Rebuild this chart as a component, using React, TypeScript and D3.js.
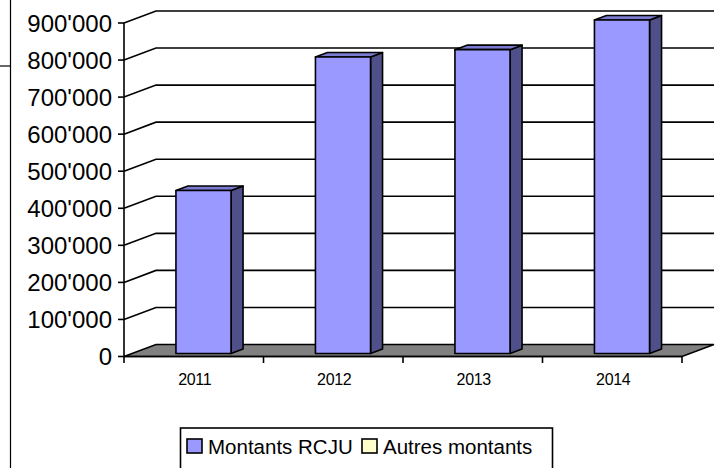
import React from "react";
import * as d3 from "d3";

const categories = ["2011", "2012", "2013", "2014"];
const rcjuValues = [440000, 800000, 820000, 900000];
const yTicks = [0, 100000, 200000, 300000, 400000, 500000, 600000, 700000, 800000, 900000];
const seriesNames = ["Montants RCJU", "Autres montants"];
const seriesColors = ["#9999FF", "#FFFFCC"];

const W = 715;
const H = 468;
const X0 = 124;
const X1 = 682;
const Y0 = 356.5;
const Y1 = 23;
const DX = 32;
const DY = -12;
const FONT = "Arial, 'Liberation Sans', sans-serif";

const fmt = (v: number) => {
  if (v === 0) return "0";
  const s = d3.format(",")(v);
  return s.replace(/,/g, "'");
};

export default function App() {
  const x = d3.scaleBand<string>().domain(categories).range([X0, X1]).padding(0);
  const y = d3.scaleLinear().domain([0, 900000]).range([Y0, Y1]);
  const bw = x.bandwidth();
  const barW = bw * 0.395;
  const f1 = 0.25;
  const f2 = 0.625;
  const fdx = DX * f1, fdy = DY * f1;
  const bdx = DX * f2, bdy = DY * f2;

  const pts = (arr: [number, number][]) => arr.map((p) => p.join(",")).join(" ");

  return (
    <svg width={W} height={H} style={{ position: "absolute", left: 0, top: 0, background: "#fff" }}>
      {/* outer frame lines */}
      <line x1={10.5} y1={0} x2={10.5} y2={H} stroke="#000" strokeWidth={1.2} />
      <line x1={0} y1={66} x2={10.5} y2={66} stroke="#000" strokeWidth={1.2} />

      {/* floor */}
      <polygon
        points={pts([
          [X0, Y0],
          [X1, Y0],
          [X1 + DX, Y0 + DY],
          [X0 + DX, Y0 + DY],
        ])}
        fill="#808080"
        stroke="#000"
        strokeWidth={1.5}
      />

      {/* gridlines: side wall diagonal + back wall horizontal */}
      {yTicks.map((t) => (
        <g key={t}>
          {t > 0 && (
            <polyline
              points={pts([
                [X0, y(t)],
                [X0 + DX, y(t) + DY],
                [X1 + DX, y(t) + DY],
              ])}
              fill="none"
              stroke="#000"
              strokeWidth={1.6}
            />
          )}
        </g>
      ))}

      {/* bars */}
      {categories.map((c, i) => {
        const v = rcjuValues[i];
        const xl = (x(c) as number) + bw * 0.315;
        const xr = xl + barW;
        const yb = y(0);
        const yt = y(v);
        const front: [number, number][] = [
          [xl + fdx, yt + fdy],
          [xr + fdx, yt + fdy],
          [xr + fdx, yb + fdy],
          [xl + fdx, yb + fdy],
        ];
        const side: [number, number][] = [
          [xr + fdx, yt + fdy],
          [xr + bdx, yt + bdy],
          [xr + bdx, yb + bdy],
          [xr + fdx, yb + fdy],
        ];
        const top: [number, number][] = [
          [xl + fdx, yt + fdy],
          [xl + bdx, yt + bdy],
          [xr + bdx, yt + bdy],
          [xr + fdx, yt + fdy],
        ];
        return (
          <g key={c} stroke="#000" strokeWidth={1.6} strokeLinejoin="round">
            <polygon points={pts(side)} fill="#4F4F8A" />
            <polygon points={pts(top)} fill="#7A7AD0" />
            <polygon points={pts(front)} fill={seriesColors[0]} />
          </g>
        );
      })}

      {/* y axis */}
      <line x1={X0} y1={Y1} x2={X0} y2={Y0} stroke="#000" strokeWidth={1.6} />
      {yTicks.map((t) => (
        <g key={"yt" + t}>
          <line x1={X0 - 6} y1={y(t)} x2={X0} y2={y(t)} stroke="#000" strokeWidth={1.6} />
          <text
            x={112}
            y={y(t)}
            textAnchor="end"
            dominantBaseline="central"
            fontFamily={FONT}
            fontSize={24}
            fill="#000"
          >
            {fmt(t)}
          </text>
        </g>
      ))}

      {/* x axis */}
      <line x1={X0} y1={Y0} x2={X1} y2={Y0} stroke="#000" strokeWidth={1.6} />
      {[...categories.map((c) => x(c) as number), X1].map((px, i) => (
        <line key={"xt" + i} x1={px} y1={Y0} x2={px} y2={Y0 + 6.5} stroke="#000" strokeWidth={1.6} />
      ))}
      {categories.map((c) => (
        <text
          key={"xl" + c}
          x={(x(c) as number) + bw / 2 + 1}
          y={384.5}
          textAnchor="middle"
          fontFamily={FONT}
          fontSize={16}
          letterSpacing={-0.3}
          fill="#000"
        >
          {c}
        </text>
      ))}

      {/* legend */}
      <rect x={180.5} y={428} width={372} height={48} fill="#fff" stroke="#000" strokeWidth={1.6} />
      <rect x={187} y={439} width={15} height={14} fill={seriesColors[0]} stroke="#000" strokeWidth={1.6} />
      <text x={208} y={454} fontFamily={FONT} fontSize={20.5} fill="#000">
        {seriesNames[0]}
      </text>
      <rect x={362} y={439} width={15} height={14} fill={seriesColors[1]} stroke="#000" strokeWidth={1.6} />
      <text x={383} y={454} fontFamily={FONT} fontSize={20.5} fill="#000">
        {seriesNames[1]}
      </text>
    </svg>
  );
}
